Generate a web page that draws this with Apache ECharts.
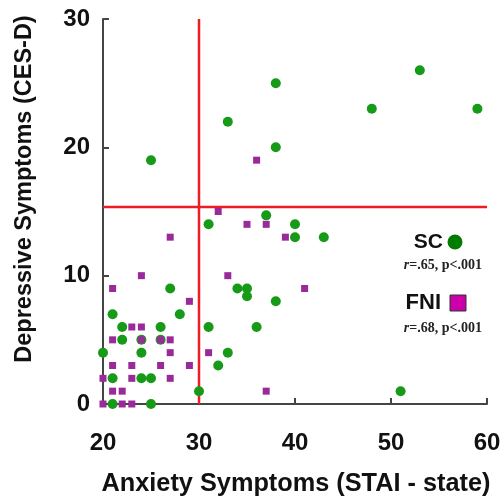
<!DOCTYPE html>
<html>
<head>
<meta charset="utf-8">
<script src="https://cdn.jsdelivr.net/npm/echarts@6/dist/echarts.min.js"></script>
<style>
html,body{margin:0;padding:0;background:#fff;}
#chart{width:504px;height:501px;}
</style>
</head>
<body>
<div id="chart"></div>
<script>
// SC group (green circles): [STAI-state, CES-D]
const scPoints = [
  [25,19],[33,22],[38,25],[38,20],[48,23],[53,26],[59,23],
  [31,14],[37,14.7],[40,14],[40,13],[43,13],
  [27,9],[34,9],[35,9],[35,8.4],[38,8],
  [21,7],[28,7],
  [22,6],[26,6],[31,6],[36,6],
  [22,5],[24,5],[26,5],
  [20,4],[24,4],[33,4],
  [32,3],
  [21,2],[24,2],[25,2],
  [30,1],[51,1],
  [21,0],[25,0]
];
// FNI group (purple squares)
const fniPoints = [
  [36,19],[32,15],[35,14],[37,14],[39,13],[27,13],
  [24,10],[33,10],[21,9],[41,9],[29,8],
  [23,6],[24,6],
  [21,5],[24,5],[26,5],[27,5],
  [27,4],[31,4],
  [21,3],[23,3],[26,3],[29,3],
  [20,2],[23,2],[27,2],
  [21,1],[22,1],[37,1],
  [20,0],[22,0],[23,0]
];
// Cut-off lines
const staiCutoff = 30;
const cesdCutoff = 15.35;
const xTicks = [20, 30, 40, 50, 60];
const yTicks = [0, 10, 20, 30];
const legendItems = ['SC', 'FNI'];
const legendStats = ['=.65, p<.001', '=.68, p<.001'];

const chart = echarts.init(document.getElementById('chart'), null, {renderer: 'canvas'});
const axisFont = {fontFamily: 'Liberation Sans, Arial, sans-serif', fontWeight: 'bold', fontSize: 24, color: '#111'};

chart.setOption({
  animation: false,
  backgroundColor: '#fff',
  grid: {left: 103, right: 17, top: 19, bottom: 97, outerBoundsMode: 'none'},
  xAxis: {
    type: 'value', min: xTicks[0], max: xTicks[xTicks.length-1], interval: 10,
    axisLine: {lineStyle: {color: '#444', width: 2}},
    axisTick: {inside: true, length: 6, lineStyle: {color: '#444', width: 2}},
    splitLine: {show: false},
    axisLabel: Object.assign({margin: 27}, axisFont)
  },
  yAxis: {
    type: 'value', min: yTicks[0], max: yTicks[yTicks.length-1], interval: 10,
    axisLine: {show: true, lineStyle: {color: '#444', width: 2}},
    axisTick: {show: true, inside: true, length: 6, lineStyle: {color: '#444', width: 2}},
    splitLine: {show: false},
    axisLabel: Object.assign({margin: 13}, axisFont)
  },
  series: [
    {
      type: 'line', data: [[staiCutoff, yTicks[0]], [staiCutoff, yTicks[yTicks.length-1]]],
      symbol: 'none', lineStyle: {color: '#ee1c24', width: 2.5}, z: 1, silent: true
    },
    {
      type: 'line', data: [[xTicks[0], cesdCutoff], [xTicks[xTicks.length-1], cesdCutoff]],
      symbol: 'none', lineStyle: {color: '#ee1c24', width: 2.5}, z: 1, silent: true
    },
    {
      name: 'SC', type: 'scatter', data: scPoints, symbol: 'circle', symbolSize: 10,
      itemStyle: {color: '#179a17', opacity: 1}, z: 3
    },
    {
      name: 'FNI', type: 'scatter', data: fniPoints, symbol: 'rect', symbolSize: 7,
      itemStyle: {color: '#9a2a9a', opacity: 1}, z: 4
    }
  ],
  graphic: [
    {type: 'text', x: 25, y: 189, rotation: Math.PI/2,
     style: {text: 'Depressive Symptoms (CES-D)', fontFamily: 'Liberation Sans, Arial, sans-serif', fontWeight: 'bold', fontSize: 23.5, fill: '#111', align: 'center', verticalAlign: 'middle'}},
    {type: 'text', x: 296, y: 484,
     style: {text: 'Anxiety Symptoms (STAI - state)', fontFamily: 'Liberation Sans, Arial, sans-serif', fontWeight: 'bold', fontSize: 25.3, fill: '#111', align: 'center', verticalAlign: 'middle'}},
    {type: 'text', x: 443, y: 242,
     style: {text: legendItems[0], fontFamily: 'Liberation Sans, Arial, sans-serif', fontWeight: 'bold', fontSize: 21, fill: '#111', align: 'right', verticalAlign: 'middle'}},
    {type: 'circle', shape: {cx: 455, cy: 242, r: 7.5}, style: {fill: '#007d00'}},
    {type: 'text', x: 482, y: 265,
     style: {rich: {i: {fontStyle: 'italic', fontFamily: 'Liberation Serif, Times New Roman, serif', fontWeight: 'bold', fontSize: 14, fill: '#222'}, n: {fontFamily: 'Liberation Serif, Times New Roman, serif', fontWeight: 'bold', fontSize: 14, fill: '#222'}},
             text: '{i|r}{n|' + legendStats[0] + '}', align: 'right', verticalAlign: 'middle'}},
    {type: 'text', x: 441, y: 303,
     style: {text: legendItems[1], fontFamily: 'Liberation Sans, Arial, sans-serif', fontWeight: 'bold', fontSize: 22, fill: '#111', align: 'right', verticalAlign: 'middle'}},
    {type: 'rect', shape: {x: 450, y: 295, width: 16, height: 16}, style: {fill: '#cc00aa', stroke: '#333', lineWidth: 1}},
    {type: 'text', x: 482, y: 328,
     style: {rich: {i: {fontStyle: 'italic', fontFamily: 'Liberation Serif, Times New Roman, serif', fontWeight: 'bold', fontSize: 14, fill: '#222'}, n: {fontFamily: 'Liberation Serif, Times New Roman, serif', fontWeight: 'bold', fontSize: 14, fill: '#222'}},
             text: '{i|r}{n|' + legendStats[1] + '}', align: 'right', verticalAlign: 'middle'}}
  ]
});
</script>
</body>
</html>
